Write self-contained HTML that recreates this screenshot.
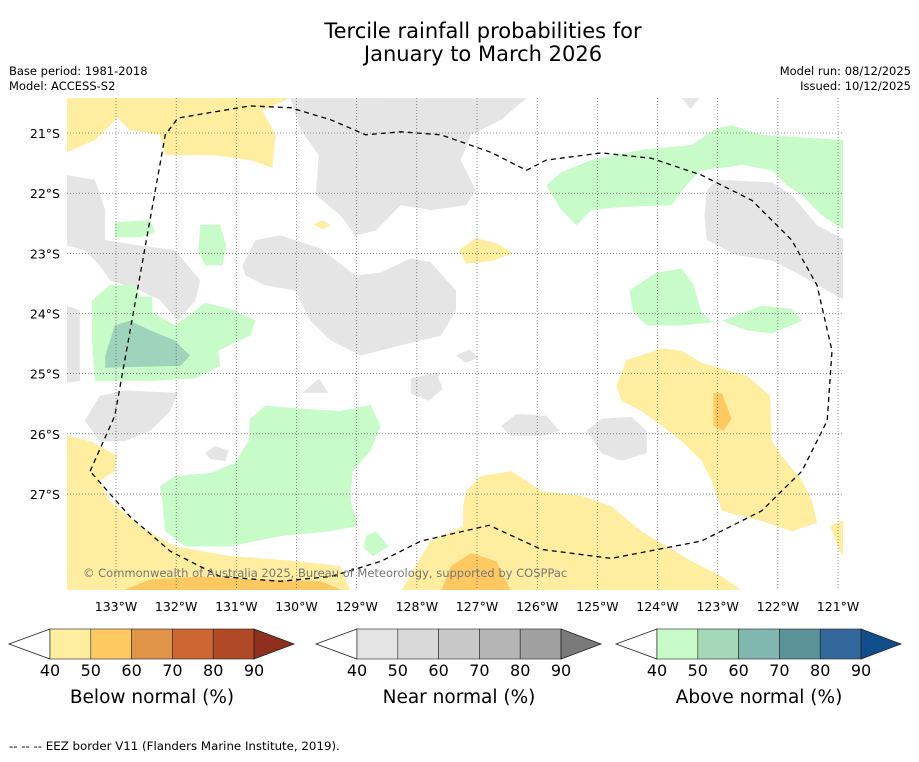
<!DOCTYPE html>
<html><head><meta charset="utf-8">
<style>
body{margin:0;background:#fff;font-family:"DejaVu Sans","Liberation Sans",sans-serif;}
svg text{font-family:"DejaVu Sans","Liberation Sans",sans-serif;}
</style></head>
<body>
<svg id="chart" width="919" height="758" viewBox="0 0 919 758" xmlns="http://www.w3.org/2000/svg">
<text x="483" y="38" font-size="21" text-anchor="middle">Tercile rainfall probabilities for</text>
<text x="483" y="61" font-size="21" text-anchor="middle">January to March 2026</text>
<text x="9" y="75" font-size="11.5">Base period: 1981-2018</text>
<text x="9" y="90" font-size="11.5">Model: ACCESS-S2</text>
<text x="911" y="75" font-size="11.5" text-anchor="end">Model run: 08/12/2025</text>
<text x="911" y="90" font-size="11.5" text-anchor="end">Issued: 10/12/2025</text>
<defs><clipPath id="mapclip"><rect x="67" y="98" width="776" height="492"/></clipPath></defs>
<g id="map" clip-path="url(#mapclip)"></g>
<g id="grid"></g>
<g id="axes"></g>
<g id="bars"></g>
<text x="9" y="750" font-size="11.8">--  --  -- EEZ border V11 (Flanders Marine Institute, 2019).</text>
</svg>
<script>
const lonTicks=[-133,-132,-131,-130,-129,-128,-127,-126,-125,-124,-123,-122,-121];
const latTicks=[-21,-22,-23,-24,-25,-26,-27];
const barLevels=[40,50,60,70,80,90];
const belowColors=["#ffeda0","#fec960","#e09448","#cc6633","#b04a26","#8f2f1d"];
const nearColors=["#e5e5e5","#d9d9d9","#c8c8c8","#b5b5b5","#a0a0a0","#7a7a7a"];
const aboveColors=["#c7fcc9","#a4d8b6","#80b8b0","#5a9498","#336699","#104e8b"];
const barTitles=["Below normal (%)","Near normal (%)","Above normal (%)"];

const grayShapes=[
[[-130.1,-20.42],[-126.18,-20.42],[-126.6,-20.78],[-127.1,-21.03],[-127.27,-21.45],[-127.02,-21.95],[-127.18,-22.2],[-127.77,-22.28],[-128.27,-22.2],[-128.68,-22.62],[-129.02,-22.7],[-129.27,-22.37],[-129.68,-22.03],[-129.63,-21.37],[-129.93,-20.95]],
[[-130.9,-23.2],[-130.68,-22.78],[-130.27,-22.7],[-129.6,-22.92],[-129.02,-23.37],[-128.6,-23.32],[-128.1,-23.08],[-127.77,-23.15],[-127.35,-23.62],[-127.35,-23.95],[-127.6,-24.37],[-128.27,-24.53],[-128.93,-24.7],[-129.43,-24.45],[-129.77,-24.12],[-130.02,-23.62],[-130.52,-23.53],[-130.85,-23.37]],
[[-133.82,-21.7],[-133.35,-21.78],[-133.18,-22.28],[-133.18,-22.78],[-132.6,-22.87],[-132.02,-22.95],[-131.6,-23.45],[-131.68,-23.78],[-131.97,-24.12],[-132.27,-23.78],[-132.6,-23.62],[-133.1,-23.45],[-133.27,-23.2],[-133.52,-22.95],[-133.82,-22.87]],
[[-133.82,-23.87],[-133.6,-23.95],[-133.6,-25.12],[-133.82,-25.15]],
[[-133.52,-25.78],[-133.27,-25.37],[-132.85,-25.28],[-131.97,-25.32],[-132.1,-25.62],[-132.43,-25.95],[-132.85,-26.12],[-133.27,-26.12]],
[[-123.18,-21.95],[-123.02,-21.78],[-122.1,-21.82],[-121.77,-22.03],[-121.35,-22.53],[-120.88,-22.78],[-120.88,-23.78],[-121.18,-23.62],[-121.77,-23.28],[-122.1,-23.12],[-122.68,-23.03],[-123.18,-22.78],[-123.22,-22.37]],
[[-128.1,-25.08],[-127.68,-24.98],[-127.57,-25.25],[-127.8,-25.45],[-128.1,-25.33]],
[[-126.6,-25.87],[-126.35,-25.67],[-125.85,-25.7],[-125.63,-25.95],[-125.93,-26.03],[-126.43,-26.03]],
[[-125.18,-25.95],[-124.93,-25.75],[-124.43,-25.72],[-124.18,-25.95],[-124.18,-26.32],[-124.6,-26.45],[-124.93,-26.32]],
[[-129.9,-25.32],[-129.63,-25.08],[-129.47,-25.32]],
[[-127.35,-24.7],[-127.13,-24.6],[-126.97,-24.73],[-127.18,-24.82]],
[[-131.52,-26.32],[-131.35,-26.2],[-131.13,-26.28],[-131.18,-26.45],[-131.43,-26.42]],
[[-129.0,-20.42],[-128.5,-20.42],[-128.55,-20.55],[-129.0,-20.55]],
[[-123.6,-20.42],[-123.3,-20.42],[-123.45,-20.6]]
];
const greenShapes=[
[[-125.85,-21.87],[-125.6,-21.65],[-125.1,-21.45],[-124.27,-21.28],[-123.43,-21.2],[-123.02,-20.92],[-122.77,-20.87],[-122.27,-21.03],[-120.88,-21.12],[-120.88,-22.62],[-121.27,-22.37],[-121.6,-22.03],[-121.85,-21.87],[-122.1,-21.62],[-122.6,-21.53],[-122.93,-21.58],[-123.27,-21.62],[-123.52,-21.87],[-123.77,-22.2],[-124.6,-22.23],[-125.1,-22.28],[-125.35,-22.53],[-125.6,-22.28]],
[[-133.4,-23.78],[-133.1,-23.53],[-132.68,-23.53],[-132.6,-23.72],[-132.4,-23.72],[-132.4,-23.98],[-132.02,-24.2],[-131.52,-23.82],[-131.1,-23.92],[-130.68,-24.12],[-130.77,-24.37],[-131.02,-24.48],[-131.3,-24.62],[-131.27,-24.87],[-131.68,-25.08],[-132.43,-25.12],[-133.35,-25.12],[-133.4,-24.45]],
[[-133.02,-22.48],[-132.43,-22.45],[-132.35,-22.65],[-132.6,-22.73],[-133.02,-22.73]],
[[-131.6,-22.53],[-131.27,-22.52],[-131.17,-22.87],[-131.23,-23.2],[-131.52,-23.2],[-131.63,-22.95]],
[[-132.27,-26.87],[-132.02,-26.7],[-131.43,-26.65],[-131.02,-26.48],[-130.8,-26.12],[-130.77,-25.75],[-130.52,-25.53],[-129.93,-25.58],[-129.27,-25.62],[-128.77,-25.52],[-128.6,-25.87],[-128.77,-26.28],[-129.07,-26.62],[-129.1,-27.12],[-128.98,-27.53],[-129.43,-27.62],[-130.27,-27.7],[-131.1,-27.87],[-131.85,-27.87],[-132.18,-27.62],[-132.23,-27.12]],
[[-124.47,-23.62],[-124.02,-23.32],[-123.6,-23.25],[-123.4,-23.53],[-123.27,-23.98],[-123.07,-24.15],[-123.6,-24.2],[-124.18,-24.2],[-124.4,-23.98]],
[[-122.93,-24.12],[-122.27,-23.87],[-121.77,-23.92],[-121.6,-24.12],[-122.1,-24.33],[-122.52,-24.28]],
[[-128.85,-27.7],[-128.68,-27.62],[-128.47,-27.87],[-128.73,-28.03],[-128.88,-27.9]]
];
const tealShapes=[
[[-133.18,-24.7],[-133.02,-24.2],[-132.77,-24.12],[-132.43,-24.28],[-132.02,-24.45],[-131.77,-24.7],[-131.93,-24.87],[-133.18,-24.9]]
];
const yellowShapes=[
[[-133.82,-20.42],[-130.1,-20.42],[-130.57,-20.62],[-130.35,-21.03],[-130.4,-21.58],[-130.77,-21.45],[-131.35,-21.37],[-132.18,-21.37],[-132.27,-21.03],[-132.77,-20.95],[-132.97,-20.75],[-133.35,-21.12],[-133.82,-21.32]],
[[-127.3,-22.95],[-127.02,-22.75],[-126.68,-22.83],[-126.4,-23.0],[-126.77,-23.13],[-127.18,-23.17]],
[[-129.72,-22.52],[-129.57,-22.45],[-129.43,-22.53],[-129.57,-22.6]],
[[-124.68,-25.2],[-124.52,-24.78],[-123.93,-24.58],[-123.6,-24.62],[-123.27,-24.82],[-122.52,-25.03],[-122.13,-25.37],[-122.1,-26.12],[-121.93,-26.37],[-121.6,-26.78],[-121.43,-27.12],[-121.35,-27.48],[-121.77,-27.62],[-122.27,-27.45],[-122.6,-27.37],[-122.93,-27.28],[-123.1,-26.78],[-123.27,-26.45],[-123.6,-26.12],[-123.93,-25.87],[-124.27,-25.62],[-124.6,-25.45]],
[[-127.18,-26.95],[-126.93,-26.7],[-126.43,-26.62],[-126.18,-26.78],[-125.93,-26.95],[-125.27,-27.03],[-124.77,-27.2],[-124.27,-27.62],[-123.43,-28.12],[-122.93,-28.37],[-122.57,-28.62],[-128.27,-28.62],[-127.77,-27.78],[-127.23,-27.53],[-127.23,-27.2]],
[[-133.82,-26.03],[-133.43,-26.12],[-132.98,-26.37],[-133.02,-26.62],[-133.27,-26.78],[-133.1,-27.12],[-132.6,-27.53],[-132.02,-27.87],[-131.1,-28.03],[-129.93,-28.12],[-129.27,-28.2],[-129.1,-28.62],[-133.82,-28.62]],
[[-120.88,-27.42],[-120.88,-28.13],[-121.02,-27.83],[-121.13,-27.53]]
];
const orangeShapes=[
[[-123.07,-25.32],[-122.93,-25.33],[-122.77,-25.75],[-122.9,-25.95],[-123.07,-25.87]],
[[-127.6,-28.62],[-127.43,-28.2],[-127.1,-27.98],[-126.68,-28.12],[-126.43,-28.62]],
[[-132.93,-28.62],[-132.43,-28.42],[-131.6,-28.37],[-130.6,-28.42],[-129.6,-28.45],[-129.18,-28.62]]
];
const eezLine=[[-133.43,-26.62],[-133.02,-25.7],[-132.18,-21.03],[-131.97,-20.75],[-130.77,-20.55],[-130.1,-20.58],[-129.43,-20.78],[-128.85,-21.03],[-128.27,-20.98],[-127.6,-21.03],[-126.77,-21.32],[-126.18,-21.62],[-125.85,-21.45],[-124.93,-21.33],[-124.1,-21.42],[-123.27,-21.7],[-122.43,-22.12],[-121.77,-22.78],[-121.35,-23.53],[-121.1,-24.62],[-121.18,-25.78],[-121.6,-26.62],[-122.27,-27.28],[-123.27,-27.78],[-124.77,-28.07],[-125.93,-27.92],[-126.8,-27.52],[-127.93,-27.78],[-128.6,-28.12],[-129.43,-28.37],[-130.27,-28.45],[-131.27,-28.37],[-132.1,-27.95],[-132.77,-27.37],[-133.43,-26.62]];

const NS="http://www.w3.org/2000/svg";
const sc=60.17;
function xs(lon){return 116+(lon+133)*sc;}
function ys(lat){return 133+(-21-lat)*sc;}
function mk(tag,attrs,parent){const e=document.createElementNS(NS,tag);for(const k in attrs)e.setAttribute(k,attrs[k]);parent.appendChild(e);return e;}
function pts(arr){return arr.map(p=>xs(p[0]).toFixed(1)+","+ys(p[1]).toFixed(1)).join(" ");}
const map=document.getElementById('map');
function drawShapes(list,color,name){
  list.forEach((s,i)=>{
    const p=mk('polygon',{points:pts(s),fill:color},map);
    
    
  });
}
drawShapes(grayShapes,nearColors[0],'near-normal-region');
drawShapes(greenShapes,aboveColors[0],'above-normal-region');
drawShapes(tealShapes,"#9fd3bc",'above-normal-50-region');
drawShapes(yellowShapes,belowColors[0],'below-normal-region');
drawShapes(orangeShapes,belowColors[1],'below-normal-50-region');
const eez=mk('polyline',{points:pts(eezLine),fill:'none',stroke:'#000','stroke-width':1.3,'stroke-dasharray':'5,4'},map);


const cr=mk('text',{x:83,y:577,'font-size':11.5,fill:'#777'},map);


cr.textContent="© Commonwealth of Australia 2025, Bureau of Meteorology, supported by COSPPac";

const grid=document.getElementById('grid');
const axes=document.getElementById('axes');
lonTicks.forEach(l=>{
  const g=mk('line',{x1:xs(l),x2:xs(l),y1:98,y2:590,stroke:'#444','stroke-width':0.6,'stroke-dasharray':'1,2'},grid);
  
  
  const t=mk('text',{x:xs(l),y:611,'font-size':12.5,'text-anchor':'middle'},axes);
  
  
  t.textContent=Math.abs(l)+"°W";
});
latTicks.forEach(l=>{
  const g=mk('line',{x1:67,x2:843,y1:ys(l),y2:ys(l),stroke:'#444','stroke-width':0.6,'stroke-dasharray':'1,2'},grid);
  
  
  const t=mk('text',{x:60,y:ys(l)+5,'font-size':12.5,'text-anchor':'end'},axes);
  
  
  t.textContent=Math.abs(l)+"°S";
});

const bars=document.getElementById('bars');
const barStarts=[50,357,657];
const palettes=[belowColors,nearColors,aboveColors];
const barNames=['below-normal-colorbar','near-normal-colorbar','above-normal-colorbar'];
const bw=40.8,by=629,bh=30;
barStarts.forEach((x0,bi)=>{
  const g=mk('g',{},bars);
  
  
  const n=barLevels.length-1;
  const x1=x0+bw*n;
  const lt=mk('polygon',{points:`${x0},${by} ${x0-41},${by+bh/2} ${x0},${by+bh}`,fill:'#fff',stroke:'#222','stroke-width':0.8},g);
  
  
  for(let i=0;i<n;i++){
    const r=mk('rect',{x:x0+bw*i,y:by,width:bw,height:bh,fill:palettes[bi][i],stroke:'#222','stroke-width':0.6},g);
    
    
  }
  const rt=mk('polygon',{points:`${x1},${by} ${x1+40},${by+bh/2} ${x1},${by+bh}`,fill:palettes[bi][5],stroke:'#222','stroke-width':0.8},g);
  
  
  barLevels.forEach((v,i)=>{
    const t=mk('text',{x:x0+bw*i,y:676,'font-size':16,'text-anchor':'middle'},g);
    
    
    t.textContent=v;
  });
  const tt=mk('text',{x:x0+bw*n/2,y:703,'font-size':18.5,'text-anchor':'middle'},g);
  
  
  tt.textContent=barTitles[bi];
});
</script>
</body></html>
